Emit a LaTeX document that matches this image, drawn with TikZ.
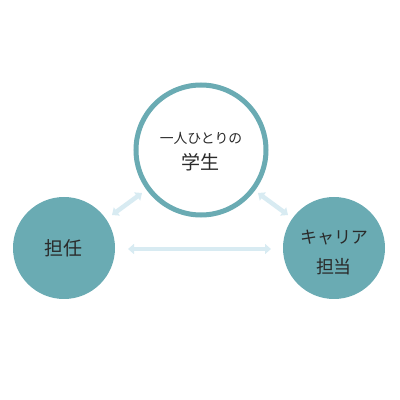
\documentclass[tikz,border=0pt]{standalone}
\usepackage{fontspec}
\newfontfamily\jp{Noto Sans CJK JP}
\usetikzlibrary{arrows.meta}
\definecolor{teal1}{HTML}{6AABB3}
\definecolor{pale}{HTML}{D8EBF2}
\definecolor{txt}{HTML}{2A2A2A}
\begin{document}
\begin{tikzpicture}[x=1pt,y=1pt,
  filled/.style={circle,fill=teal1,minimum size=102pt,inner sep=0pt},
  ring/.style={circle,draw=teal1,line width=5pt,fill=white,minimum size=130pt,inner sep=0pt},
  link/.style={draw=pale,line width=4.5pt,{Triangle[width=10pt,length=6pt]}-{Triangle[width=10pt,length=6pt]}},
  lbl/.style={text=txt,font=\jp,align=center,inner sep=0pt}]
\useasboundingbox (0,0) rectangle (400,400);
\node[ring] (top) at (201,250) {};
\node[filled] (left) at (64,152) {};
\node[filled] (right) at (334,152) {};
\node[lbl,font=\jp\fontsize{13.8}{14}\selectfont] (t1) at (201,262) {一人ひとりの};
\node[lbl,font=\jp\fontsize{19}{19}\selectfont] (t2) at (201,238) {学生};
\node[lbl,font=\jp\fontsize{19}{19}\selectfont] (l1) at (64,152) {担任};
\node[lbl,font=\jp\fontsize{17}{17}\selectfont] (r1) at (334,162) {キャリア};
\node[lbl,font=\jp\fontsize{18}{18}\selectfont] (r2) at (334,133) {担当};
\coordinate (a1) at (112,185);
\coordinate (a2) at (142,207);
\coordinate (b1) at (258,207);
\coordinate (b2) at (288,185);
\coordinate (c1) at (128,151);
\coordinate (c2) at (271,151);
\draw[link] (a1) -- (a2);
\draw[link] (b1) -- (b2);
\draw[link] (c1) -- (c2);
\end{tikzpicture}
\end{document}
